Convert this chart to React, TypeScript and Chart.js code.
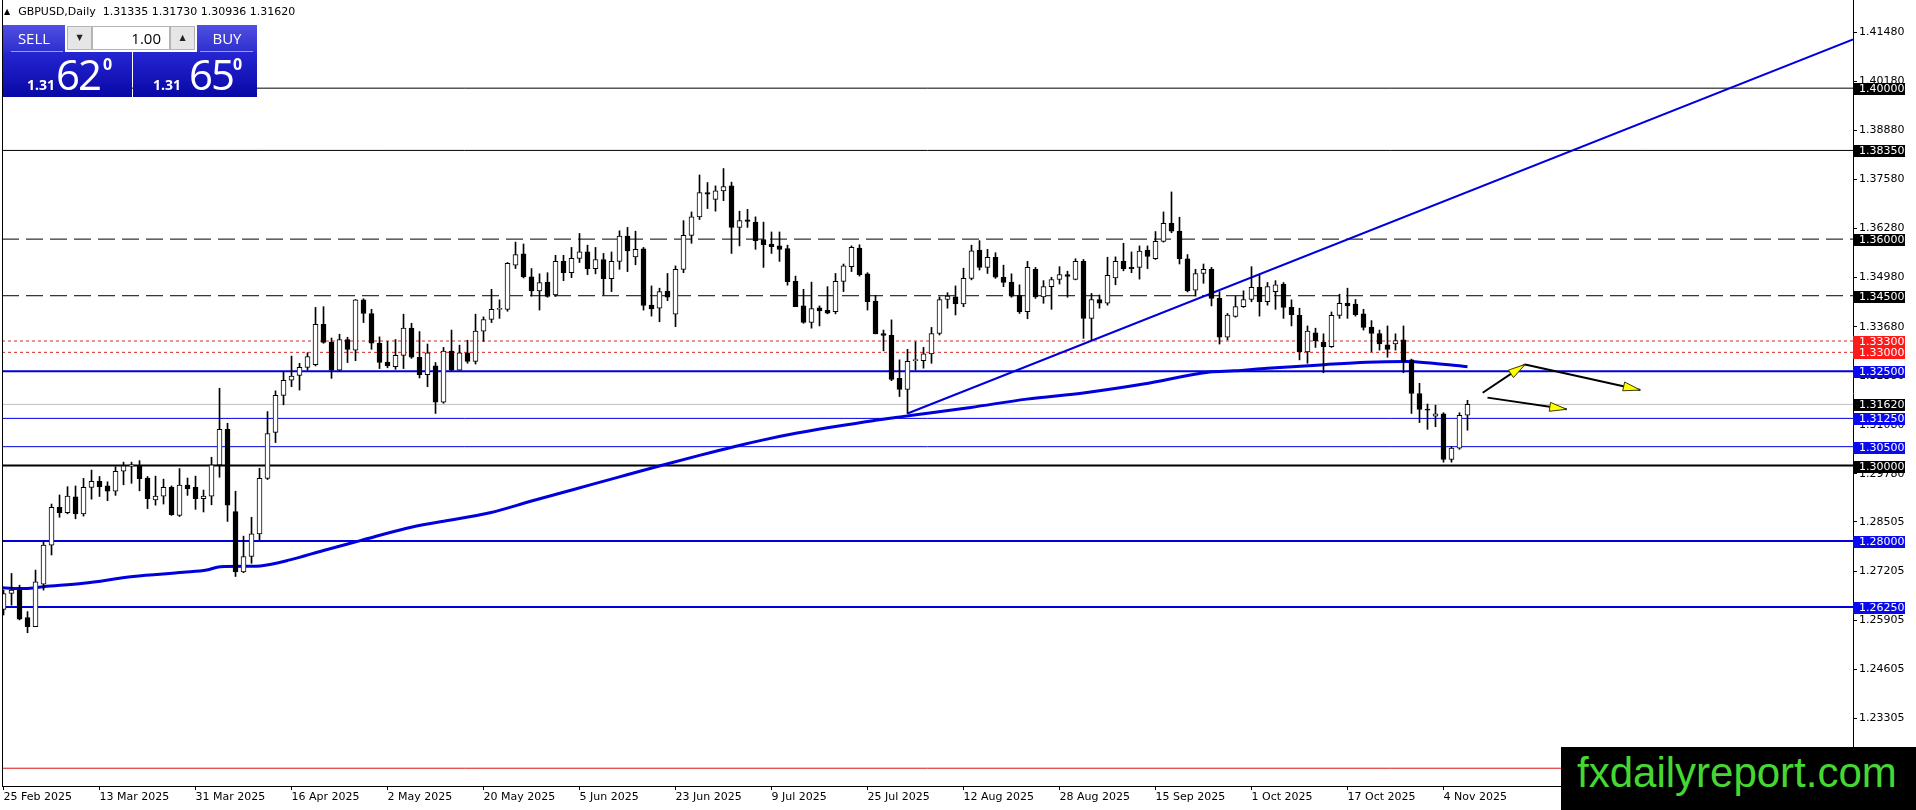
import React, { useEffect, useRef } from "react";
import { Chart, registerables } from "chart.js";

Chart.register(...registerables);

// ---- Daily GBPUSD candles, bar 0 = 25 Feb 2025 ... bar 183 = 7 Nov 2025 ----
const OPEN = [
  1.2619, 1.2661, 1.2670, 1.2597, 1.2573, 1.2686, 1.2789, 1.2889, 1.2875, 1.2917,
  1.2872, 1.2942, 1.2958, 1.2946, 1.2932, 1.2985, 1.2999, 1.2999, 1.2967, 1.2909,
  1.2919, 1.2942, 1.2868, 1.2948, 1.2942, 1.2912, 1.2919, 1.3002, 1.3096, 1.2878,
  1.2718, 1.2759, 1.2819, 1.2966, 1.3088, 1.3186, 1.3226, 1.3239, 1.3260, 1.3267,
  1.3374, 1.3327, 1.3253, 1.3334, 1.3306, 1.3439, 1.3403, 1.3324, 1.3274, 1.3262,
  1.3292, 1.3364, 1.3287, 1.3241, 1.3264, 1.3168, 1.3303, 1.3253, 1.3299, 1.3276,
  1.3356, 1.3387, 1.3414, 1.3414, 1.3531, 1.3561, 1.3500, 1.3463, 1.3486, 1.3452,
  1.3541, 1.3511, 1.3549, 1.3566, 1.3522, 1.3546, 1.3495, 1.3541, 1.3608, 1.3553,
  1.3574, 1.3425, 1.3417, 1.3462, 1.3401, 1.3520, 1.3610, 1.3659, 1.3723, 1.3705,
  1.3728, 1.3741, 1.3631, 1.3651, 1.3645, 1.3599, 1.3587, 1.3582, 1.3575, 1.3488,
  1.3423, 1.3379, 1.3418, 1.3411, 1.3408, 1.3488, 1.3527, 1.3576, 1.3508, 1.3436,
  1.3350, 1.3345, 1.3231, 1.3202, 1.3278, 1.3278, 1.3296, 1.3350, 1.3440, 1.3447,
  1.3428, 1.3496, 1.3571, 1.3525, 1.3552, 1.3499, 1.3486, 1.3451, 1.3408, 1.3520,
  1.3447, 1.3474, 1.3493, 1.3506, 1.3493, 1.3541, 1.3390, 1.3440, 1.3430, 1.3497,
  1.3541, 1.3525, 1.3525, 1.3571, 1.3548, 1.3594, 1.3642, 1.3621, 1.3548, 1.3465,
  1.3509, 1.3520, 1.3443, 1.3340, 1.3395, 1.3421, 1.3440, 1.3472, 1.3434, 1.3461,
  1.3481, 1.3419, 1.3398, 1.3301, 1.3352, 1.3327, 1.3315, 1.3398, 1.3430, 1.3428,
  1.3402, 1.3366, 1.3350, 1.3320, 1.3322, 1.3333, 1.3280, 1.3191, 1.3148, 1.3131,
  1.3137, 1.3016, 1.3046, 1.31335,
];
const HIGH = [
  1.2670, 1.2714, 1.2683, 1.2613, 1.2723, 1.2798, 1.2898, 1.2922, 1.2944, 1.2946,
  1.2966, 1.2988, 1.2971, 1.2957, 1.2997, 1.3009, 1.3009, 1.3013, 1.2971, 1.2972,
  1.2964, 1.2946, 1.2992, 1.2967, 1.2972, 1.2935, 1.3022, 1.3205, 1.3112, 1.2932,
  1.2813, 1.2863, 1.2993, 1.3143, 1.3198, 1.3249, 1.3290, 1.3271, 1.3299, 1.3419,
  1.3421, 1.3338, 1.3348, 1.3340, 1.3440, 1.3442, 1.3414, 1.3341, 1.3329, 1.3334,
  1.3401, 1.3377, 1.3355, 1.3322, 1.3273, 1.3313, 1.3359, 1.3319, 1.3332, 1.3401,
  1.3394, 1.3467, 1.3439, 1.3538, 1.3592, 1.3587, 1.3522, 1.3508, 1.3511, 1.3557,
  1.3557, 1.3578, 1.3615, 1.3584, 1.3578, 1.3562, 1.3566, 1.3622, 1.3631, 1.3621,
  1.3578, 1.3476, 1.3470, 1.3509, 1.3529, 1.3649, 1.3672, 1.3770, 1.3750, 1.3741,
  1.3787, 1.3751, 1.3674, 1.3679, 1.3659, 1.3645, 1.3619, 1.3619, 1.3584, 1.3502,
  1.3467, 1.3486, 1.3423, 1.3474, 1.3509, 1.3534, 1.3582, 1.3585, 1.3511, 1.3451,
  1.3359, 1.3386, 1.3280, 1.3308, 1.3328, 1.3313, 1.3366, 1.3447, 1.3458, 1.3476,
  1.3523, 1.3584, 1.3596, 1.3573, 1.3564, 1.3531, 1.3508, 1.3479, 1.3541, 1.3525,
  1.3490, 1.3499, 1.3527, 1.3515, 1.3548, 1.3546, 1.3456, 1.3452, 1.3552, 1.3553,
  1.3589, 1.3566, 1.3582, 1.3582, 1.3620, 1.3672, 1.3725, 1.3658, 1.3559, 1.3520,
  1.3534, 1.3525, 1.3461, 1.3403, 1.3449, 1.3463, 1.3527, 1.3505, 1.3485, 1.3490,
  1.3485, 1.3439, 1.3417, 1.3370, 1.3364, 1.3349, 1.3407, 1.3454, 1.3470, 1.3440,
  1.3414, 1.3384, 1.3359, 1.3370, 1.3349, 1.3370, 1.3282, 1.3218, 1.3163, 1.3160,
  1.3140, 1.3050, 1.3140, 1.31730,
];
const LOW = [
  1.2604, 1.2630, 1.2591, 1.2557, 1.2573, 1.2670, 1.2763, 1.2863, 1.2872, 1.2859,
  1.2866, 1.2911, 1.2918, 1.2907, 1.2921, 1.2949, 1.2953, 1.2933, 1.2886, 1.2895,
  1.2898, 1.2868, 1.2865, 1.2921, 1.2884, 1.2877, 1.2896, 1.2969, 1.2852, 1.2706,
  1.2716, 1.2741, 1.2803, 1.2963, 1.3061, 1.3161, 1.3209, 1.3200, 1.3253, 1.3264,
  1.3324, 1.3231, 1.3250, 1.3273, 1.3278, 1.3379, 1.3308, 1.3257, 1.3259, 1.3255,
  1.3257, 1.3284, 1.3232, 1.3209, 1.3138, 1.3165, 1.3251, 1.3253, 1.3271, 1.3269,
  1.3329, 1.3379, 1.3390, 1.3409, 1.3522, 1.3497, 1.3449, 1.3412, 1.3446, 1.3448,
  1.3490, 1.3498, 1.3538, 1.3506, 1.3508, 1.3452, 1.3461, 1.3520, 1.3514, 1.3532,
  1.3412, 1.3396, 1.3381, 1.3437, 1.3368, 1.3511, 1.3589, 1.3652, 1.3681, 1.3674,
  1.3702, 1.3562, 1.3582, 1.3631, 1.3573, 1.3525, 1.3562, 1.3541, 1.3478, 1.3421,
  1.3377, 1.3364, 1.3370, 1.3402, 1.3402, 1.3461, 1.3514, 1.3502, 1.3412, 1.3349,
  1.3304, 1.3225, 1.3183, 1.3138, 1.3253, 1.3258, 1.3271, 1.3346, 1.3417, 1.3399,
  1.3421, 1.3492, 1.3518, 1.3509, 1.3496, 1.3474, 1.3446, 1.3403, 1.3389, 1.3443,
  1.3430, 1.3414, 1.3481, 1.3446, 1.3492, 1.3337, 1.3333, 1.3417, 1.3425, 1.3479,
  1.3516, 1.3511, 1.3494, 1.3522, 1.3546, 1.3592, 1.3617, 1.3534, 1.3460, 1.3449,
  1.3483, 1.3423, 1.3322, 1.3333, 1.3393, 1.3419, 1.3434, 1.3396, 1.3425, 1.3414,
  1.3390, 1.3370, 1.3280, 1.3271, 1.3313, 1.3246, 1.3313, 1.3390, 1.3390, 1.3396,
  1.3359, 1.3302, 1.3306, 1.3287, 1.3306, 1.3246, 1.3138, 1.3114, 1.3096, 1.3103,
  1.3009, 1.3009, 1.3043, 1.30936,
];
const CLOSE = [
  1.2661, 1.2670, 1.2593, 1.2573, 1.2692, 1.2789, 1.2889, 1.2875, 1.2919, 1.2872,
  1.2942, 1.2958, 1.2944, 1.2932, 1.2985, 1.2999, 1.3000, 1.2965, 1.2912, 1.2919,
  1.2942, 1.2870, 1.2948, 1.2939, 1.2912, 1.2919, 1.3002, 1.3096, 1.2895, 1.2718,
  1.2759, 1.2819, 1.2966, 1.3085, 1.3186, 1.3226, 1.3237, 1.3260, 1.3289, 1.3374,
  1.3326, 1.3253, 1.3334, 1.3308, 1.3439, 1.3403, 1.3324, 1.3273, 1.3264, 1.3292,
  1.3364, 1.3287, 1.3241, 1.3299, 1.3168, 1.3303, 1.3253, 1.3299, 1.3276, 1.3356,
  1.3387, 1.3414, 1.3415, 1.3536, 1.3559, 1.3500, 1.3463, 1.3485, 1.3448, 1.3541,
  1.3511, 1.3549, 1.3566, 1.3522, 1.3546, 1.3495, 1.3541, 1.3608, 1.3569, 1.3573,
  1.3424, 1.3415, 1.3461, 1.3446, 1.3520, 1.3610, 1.3659, 1.3723, 1.3719, 1.3728,
  1.3739, 1.3631, 1.3649, 1.3647, 1.3596, 1.3585, 1.3580, 1.3573, 1.3487, 1.3421,
  1.3379, 1.3416, 1.3410, 1.3404, 1.3488, 1.3529, 1.3578, 1.3506, 1.3434, 1.3349,
  1.3345, 1.3228, 1.3202, 1.3276, 1.3281, 1.3296, 1.3350, 1.3440, 1.3449, 1.3428,
  1.3496, 1.3569, 1.3525, 1.3552, 1.3499, 1.3485, 1.3449, 1.3407, 1.3525, 1.3447,
  1.3474, 1.3493, 1.3506, 1.3501, 1.3541, 1.3390, 1.3440, 1.3430, 1.3504, 1.3541,
  1.3522, 1.3522, 1.3568, 1.3554, 1.3594, 1.3642, 1.3621, 1.3548, 1.3463, 1.3509,
  1.3520, 1.3443, 1.3340, 1.3399, 1.3421, 1.3440, 1.3472, 1.3434, 1.3474, 1.3479,
  1.3419, 1.3400, 1.3301, 1.3356, 1.3331, 1.3315, 1.3398, 1.3430, 1.3423, 1.3400,
  1.3366, 1.3350, 1.3322, 1.3308, 1.3331, 1.3275, 1.3191, 1.3149, 1.3147, 1.3137,
  1.3016, 1.3046, 1.3133, 1.31620,
];

// ---- axis labels ----
const DATE_LABEL_BARS = [0, 12, 24, 36, 48, 60, 72, 84, 96, 108, 120, 132, 144, 156, 168, 180];
const DATE_LABELS = [
  "25 Feb 2025", "13 Mar 2025", "31 Mar 2025", "16 Apr 2025", "2 May 2025", "20 May 2025",
  "5 Jun 2025", "23 Jun 2025", "9 Jul 2025", "25 Jul 2025", "12 Aug 2025", "28 Aug 2025",
  "15 Sep 2025", "1 Oct 2025", "17 Oct 2025", "4 Nov 2025",
];
const Y_TICKS = [
  1.4148, 1.4018, 1.3888, 1.3758, 1.3628, 1.3498, 1.3368, 1.3238, 1.3108, 1.2978,
  1.28505, 1.27205, 1.25905, 1.24605, 1.23305,
];

// ---- moving average (bar index, price) ----
const MA_X = [
  -0.2, 2.7, 5.0, 10.0, 16.2, 22.5, 25.4, 27.1, 30.8, 32.1, 35.8, 40.0, 44.6, 50.4, 54.6,
  60.8, 66.0, 71.5, 77.0, 82.2, 87.0, 91.3, 95.0, 99.2, 103.0, 106.3, 109.0, 112.1, 116.0,
  120.9, 127.9, 135.2, 142.5, 150.8, 153.8, 158.0, 164.2, 170.4, 175.4, 178.7, 183.0,
];
const MA_Y = [
  1.2676, 1.2674, 1.2679, 1.2688, 1.2706, 1.2717, 1.2723, 1.2732, 1.2733, 1.2734, 1.2750,
  1.2775, 1.2801, 1.2834, 1.2851, 1.2875, 1.2906, 1.2938, 1.2970, 1.3000, 1.3027, 1.3050,
  1.3068, 1.3086, 1.3100, 1.3111, 1.3120, 1.3129, 1.3140, 1.3154, 1.3176, 1.3193, 1.3216,
  1.3248, 1.3251, 1.3258, 1.3266, 1.3274, 1.3276, 1.3271, 1.3262,
];

// ---- trend line ----
const TREND_X = [113, 231.2];
const TREND_Y = [1.3138, 1.4129];

// ---- arrows (start -> end) ----
const ARROW_X0 = [184.9, 190.2, 185.5];
const ARROW_Y0 = [1.3193, 1.3268, 1.318];
const ARROW_X1 = [190.2, 204.6, 195.4];
const ARROW_Y1 = [1.3268, 1.32, 1.3149];

// ---- horizontal levels ----
const LEVEL_PRICES = [1.4, 1.3835, 1.36, 1.345, 1.333, 1.33, 1.325, 1.3125, 1.305, 1.3, 1.28, 1.2625, 1.2198, 1.3162];
const LEVEL_KINDS = ["thin", "thin", "dash", "dash", "dot", "dot", "blueBold", "blue", "blue", "bold", "blueBold", "blueBold", "red", "bid"];

const STYLES: Record<string, { color: string; width: number; dash: number[]; box: string }> = {
  thin: { color: "#000000", width: 1, dash: [], box: "#000000" },
  bold: { color: "#000000", width: 2, dash: [], box: "#000000" },
  dash: { color: "#000000", width: 1, dash: [17, 7], box: "#000000" },
  dot: { color: "#d42a2a", width: 1, dash: [3, 3], box: "#ff1a1a" },
  blue: { color: "#0000dd", width: 1, dash: [], box: "#0a0af0" },
  blueBold: { color: "#0000dd", width: 2, dash: [], box: "#0a0af0" },
  red: { color: "#dd1111", width: 1, dash: [], box: "#dd1111" },
  bid: { color: "#c0c0c0", width: 1, dash: [], box: "#000000" },
};

const X_MIN = -0.19;
const X_MAX = 231.19;
const Y_MIN = 1.21509;
const Y_MAX = 1.42336;
const FONT = "'DejaVu Sans', sans-serif";

const overlayPlugin = {
  id: "mtOverlay",
  afterDraw(chart: any) {
    const { ctx, chartArea, scales } = chart;
    const xs = scales.x;
    const ys = scales.y;
    ctx.save();
    // left frame
    ctx.strokeStyle = "#000";
    ctx.lineWidth = 1;
    ctx.beginPath();
    ctx.moveTo(Math.floor(chartArea.left) + 0.5, chartArea.top);
    ctx.lineTo(Math.floor(chartArea.left) + 0.5, chartArea.bottom);
    ctx.stroke();

    // arrow heads
    for (let k = 0; k < ARROW_X1.length; k++) {
      const x0 = xs.getPixelForValue(ARROW_X0[k]);
      const y0 = ys.getPixelForValue(ARROW_Y0[k]);
      const x1 = xs.getPixelForValue(ARROW_X1[k]);
      const y1 = ys.getPixelForValue(ARROW_Y1[k]);
      const a = Math.atan2(y1 - y0, x1 - x0);
      const L = 17;
      const W = 4.5;
      const bx = x1 - L * Math.cos(a);
      const by = y1 - L * Math.sin(a);
      ctx.beginPath();
      ctx.moveTo(x1, y1);
      ctx.lineTo(bx - W * Math.sin(a), by + W * Math.cos(a));
      ctx.lineTo(bx + W * Math.sin(a), by - W * Math.cos(a));
      ctx.closePath();
      ctx.fillStyle = "#ffff00";
      ctx.fill();
      ctx.strokeStyle = "#3a3a00";
      ctx.lineWidth = 1;
      ctx.stroke();
    }

    // price boxes on the right axis
    ctx.font = "11px " + FONT;
    ctx.textBaseline = "middle";
    ctx.textAlign = "left";
    for (let k = 0; k < LEVEL_PRICES.length; k++) {
      const st = STYLES[LEVEL_KINDS[k]];
      const y = Math.round(ys.getPixelForValue(LEVEL_PRICES[k]));
      ctx.fillStyle = st.box;
      ctx.fillRect(chartArea.right, y - 5, 52, 12);
      ctx.fillStyle = "#ffffff";
      ctx.fillText(LEVEL_PRICES[k].toFixed(5), chartArea.right + 6, y + 1.5);
    }
    ctx.restore();
  },
};

export default function App() {
  const canvasRef = useRef<HTMLCanvasElement | null>(null);

  useEffect(() => {
    document.body.style.margin = "0";
    const canvas = canvasRef.current;
    if (!canvas) return;

    const bodies = OPEN.map((o, i) => ({ x: i, y: [o, CLOSE[i]] }));
    const wicks = LOW.map((l, i) => ({ x: i, y: [l, HIGH[i]] }));
    const bodyFill = OPEN.map((o, i) => (CLOSE[i] >= o ? "#ffffff" : "#000000"));

    const levelSets = LEVEL_PRICES.map((p, k) => {
      const st = STYLES[LEVEL_KINDS[k]];
      return {
        type: "line",
        data: [{ x: X_MIN, y: p }, { x: X_MAX, y: p }],
        borderColor: st.color,
        borderWidth: st.width,
        borderDash: st.dash,
        pointRadius: 0,
        tension: 0,
        order: 20,
      };
    });

    const arrowSets = ARROW_X0.map((x0, k) => ({
      type: "line",
      data: [{ x: x0, y: ARROW_Y0[k] }, { x: ARROW_X1[k], y: ARROW_Y1[k] }],
      borderColor: "#000000",
      borderWidth: 2,
      pointRadius: 0,
      order: 0,
    }));

    const chart = new Chart(canvas, {
      type: "bar",
      data: {
        datasets: [
          ...levelSets,
          {
            type: "line",
            data: MA_X.map((x, i) => ({ x, y: MA_Y[i] })),
            borderColor: "#0000dd",
            borderWidth: 3,
            pointRadius: 0,
            tension: 0.3,
            cubicInterpolationMode: "monotone",
            order: 15,
          },
          {
            type: "line",
            data: TREND_X.map((x, i) => ({ x, y: TREND_Y[i] })),
            borderColor: "#0000dd",
            borderWidth: 2,
            pointRadius: 0,
            order: 14,
          },
          {
            type: "bar",
            data: wicks,
            backgroundColor: "#000000",
            borderWidth: 0,
            barThickness: 1,
            grouped: false,
            order: 2,
          },
          {
            type: "bar",
            data: bodies,
            backgroundColor: bodyFill,
            borderColor: "#000000",
            borderWidth: 1,
            borderSkipped: false,
            barThickness: 5,
            minBarLength: 1,
            grouped: false,
            order: 1,
          },
          ...arrowSets,
        ] as any,
      },
      options: {
        animation: false,
        responsive: false,
        events: [],
        layout: { padding: { left: 2, top: 0, right: 0, bottom: 0 } },
        plugins: { legend: { display: false }, tooltip: { enabled: false } },
        scales: {
          x: {
            type: "linear",
            min: X_MIN,
            max: X_MAX,
            offset: false,
            position: "bottom",
            grid: { drawOnChartArea: false, drawTicks: true, tickLength: 4, color: "#000", offset: false },
            border: { display: true, color: "#000", width: 1 },
            ticks: {
              autoSkip: false,
              maxRotation: 0,
              minRotation: 0,
              align: "start",
              padding: 1,
              color: "#000",
              font: { family: FONT, size: 11 },
              callback: (_v: any, i: number) => DATE_LABELS[i] ?? "",
            },
            afterBuildTicks: (ax: any) => {
              ax.ticks = DATE_LABEL_BARS.map((v) => ({ value: v }));
            },
            afterFit: (ax: any) => {
              ax.height = 24;
              ax.paddingLeft = 0;
              ax.paddingRight = 0;
            },
          },
          y: {
            type: "linear",
            position: "right",
            min: Y_MIN,
            max: Y_MAX,
            grid: { drawOnChartArea: false, drawTicks: true, tickLength: 4, color: "#000" },
            border: { display: true, color: "#000", width: 1 },
            ticks: {
              padding: 2,
              color: "#000",
              font: { family: FONT, size: 11 },
              callback: (v: any) => Number(v).toFixed(5),
            },
            afterBuildTicks: (ax: any) => {
              ax.ticks = Y_TICKS.map((v) => ({ value: v }));
            },
            afterFit: (ax: any) => {
              ax.width = 63;
              ax.paddingTop = 0;
              ax.paddingBottom = 0;
            },
          },
        },
      } as any,
      plugins: [overlayPlugin],
    });

    return () => chart.destroy();
  }, []);

  const topBlue = "linear-gradient(#5050e4, #2e2ecc)";
  const lowBlue = "linear-gradient(#2626d2, #0808a6)";
  const btnFont = "15px 'Open Sans', sans-serif";

  return (
    <div style={{ position: "relative", width: 1916, height: 810, background: "#fff", overflow: "hidden" }}>
      <canvas ref={canvasRef} width={1916} height={810} style={{ position: "absolute", left: 0, top: 0 }} />

      {/* header */}
      <div style={{ position: "absolute", left: 4, top: 6, font: "11px " + FONT, color: "#000", whiteSpace: "pre", lineHeight: "12px" }}>
        <span style={{ fontSize: 8, marginRight: 8, verticalAlign: "1px" }}>▲</span>
        GBPUSD,Daily  1.31335 1.31730 1.30936 1.31620
      </div>

      {/* one click trading panel */}
      <div style={{ position: "absolute", left: 3, top: 25, width: 62, height: 27, background: topBlue }}>
        <div style={{ position: "absolute", left: 0, right: 0, top: 3, textAlign: "center", color: "#fff", font: btnFont }}>SELL</div>
        <div style={{ position: "absolute", left: 8, right: 2, bottom: 0, height: 1, background: "#9a9af4" }} />
      </div>
      <div style={{ position: "absolute", left: 67, top: 26, width: 23, height: 22, background: "#e6e6e6", border: "1px solid #b4b4b4", textAlign: "center", font: "8px " + FONT, lineHeight: "22px", color: "#222" }}>▼</div>
      <div style={{ position: "absolute", left: 92, top: 26, width: 76, height: 22, background: "#fff", border: "1px solid #b4b4b4", textAlign: "right", font: btnFont, lineHeight: "22px", paddingRight: 0, color: "#000" }}>
        <span style={{ marginRight: 8 }}>1.00</span>
      </div>
      <div style={{ position: "absolute", left: 170, top: 26, width: 23, height: 22, background: "#e6e6e6", border: "1px solid #b4b4b4", textAlign: "center", font: "8px " + FONT, lineHeight: "22px", color: "#222" }}>▲</div>
      <div style={{ position: "absolute", left: 197, top: 25, width: 60, height: 27, background: topBlue }}>
        <div style={{ position: "absolute", left: 0, right: 0, top: 3, textAlign: "center", color: "#fff", font: btnFont }}>BUY</div>
        <div style={{ position: "absolute", left: 3, right: 4, bottom: 0, height: 1, background: "#9a9af4" }} />
      </div>

      <div style={{ position: "absolute", left: 3, top: 52, width: 129, height: 45, background: lowBlue, color: "#fff" }}>
        <span style={{ position: "absolute", left: 24, top: 26, font: "bold 14px 'Open Sans', sans-serif", lineHeight: "14px" }}>1.31</span>
        <span style={{ position: "absolute", left: 53, top: 1, font: "42px 'Open Sans', sans-serif", lineHeight: "42px", letterSpacing: -2 }}>62</span>
        <span style={{ position: "absolute", left: 100, top: 4, font: "bold 16px 'Open Sans', sans-serif", lineHeight: "16px" }}>0</span>
      </div>
      <div style={{ position: "absolute", left: 133, top: 52, width: 124, height: 45, background: lowBlue, color: "#fff" }}>
        <span style={{ position: "absolute", left: 20, top: 26, font: "bold 14px 'Open Sans', sans-serif", lineHeight: "14px" }}>1.31</span>
        <span style={{ position: "absolute", left: 56, top: 1, font: "42px 'Open Sans', sans-serif", lineHeight: "42px", letterSpacing: -2 }}>65</span>
        <span style={{ position: "absolute", left: 100, top: 4, font: "bold 16px 'Open Sans', sans-serif", lineHeight: "16px" }}>0</span>
      </div>

      {/* watermark */}
      <div style={{ position: "absolute", left: 1561, top: 747, width: 355, height: 63, background: "#000" }}>
        <span style={{ position: "absolute", left: 16, top: 5, font: "42px 'Liberation Sans', Arial, sans-serif", lineHeight: "42px", color: "#46d832", whiteSpace: "nowrap" }}>
          fxdailyreport.com
        </span>
      </div>
    </div>
  );
}
